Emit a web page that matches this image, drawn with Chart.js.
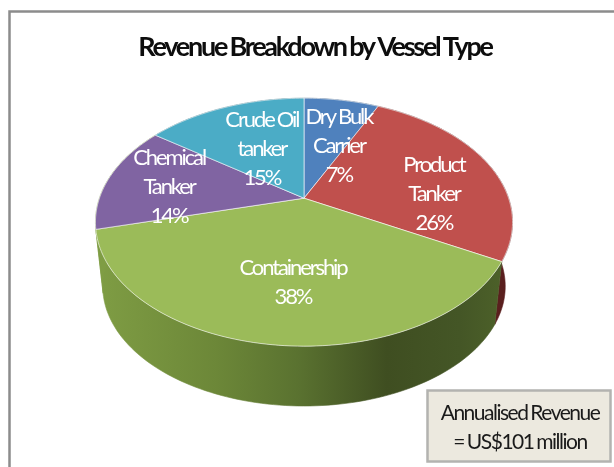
<!DOCTYPE html>
<html>
<head>
<meta charset="utf-8">
<style>
html,body{margin:0;padding:0;background:#fff;overflow:hidden}
#wrap{position:relative;width:614px;height:467px}
</style>
<script src="https://cdn.jsdelivr.net/npm/chart.js@4"></script>
</head>
<body>
<div id="wrap"><canvas id="c" width="614" height="467"></canvas></div>
<script>
// Revenue share by vessel type, in percent
const categories = ['Dry Bulk Carrier', 'Product Tanker', 'Containership', 'Chemical Tanker', 'Crude Oil tanker'];
const shares = [7, 26, 38, 14, 15];
const labelLines = [['Dry Bulk', 'Carrier'], ['Product', 'Tanker'], ['Containership'], ['Chemical', 'Tanker'], ['Crude Oil', 'tanker']];
const topColors = ['#4f81bd', '#c0504d', '#9bbb59', '#8064a2', '#4bacc6'];
const wallColors = ['#2f4d72', '#5a1f1e', '#5f7a32', '#7f9d44', '#2d6777'];
const titleText = 'Revenue Breakdown by Vessel Type';
const noteLines = ['Annualised Revenue', '= US$101 million'];

// Where each label sits inside its slice: fraction of the radius, degrees off the slice's middle
const labelRadius = [0.51, 0.64, 0.62, 0.678, 0.5];
const labelTurn = [8.8, 15, -2.8, -2.8, 0.4];

const TILT = 0.1935;       // perspective strength
const SQUASH = 0.5833;     // vertical foreshortening of the top face
const DEPTH = 65;          // height of the wall at the front
const FLOOR = 0.965;       // bottom face is a little further from the viewer
const FONT = 'Lato, "Open Sans", sans-serif';

// Projects a polar position on the disc (clockwise from the top) to the canvas
function project(arc, theta, frac, floor) {
  const u = Math.sin(theta) * frac, v = -Math.cos(theta) * frac;
  const w = 1 / (1 - TILT * v);
  const s = floor ? FLOOR : 1;
  return {
    x: arc.x + arc.outerRadius * s * u * w,
    y: arc.y + (floor ? DEPTH : 0) + arc.outerRadius * SQUASH * s * v * w
  };
}

function angles(arc) {
  return [arc.startAngle + Math.PI / 2, arc.endAngle + Math.PI / 2];
}

function wallFill(ctx, i) {
  if (i !== 2) return wallColors[i];
  const g = ctx.createLinearGradient(96, 0, 500, 0);
  g.addColorStop(0, '#7f9d44');
  g.addColorStop(0.3, '#6c8738');
  g.addColorStop(0.5, '#5a7230');
  g.addColorStop(0.72, '#3f4e21');
  g.addColorStop(0.9, '#445626');
  g.addColorStop(1, '#4c6029');
  return g;
}

const pie3d = {
  id: 'pie3d',
  beforeDraw(chart) {
    const ctx = chart.ctx;
    ctx.letterSpacing = '-2.25px';
    ctx.wordSpacing = '-1px';
    // outer frame, open on the sides the page crops
    ctx.save();
    ctx.strokeStyle = '#8c8c8c';
    ctx.lineWidth = 2.5;
    ctx.beginPath();
    ctx.moveTo(9.5, 470);
    ctx.lineTo(9.5, 11.5);
    ctx.lineTo(620, 11.5);
    ctx.stroke();
    ctx.restore();
  },
  afterLayout(chart) {
    // the heading sits a little right of the pie's axis
    chart.titleBlock.left += 22;
  },
  beforeDatasetDraw(chart) {
    const ctx = chart.ctx;
    const arcs = chart.getDatasetMeta(0).data;
    ctx.save();
    // side wall
    arcs.forEach((arc, i) => {
      const [a, b] = angles(arc);
      const n = Math.max(4, Math.ceil((b - a) * 40));
      ctx.beginPath();
      for (let k = 0; k <= n; k++) {
        const p = project(arc, a + (b - a) * k / n, 1, false);
        k ? ctx.lineTo(p.x, p.y) : ctx.moveTo(p.x, p.y);
      }
      for (let k = n; k >= 0; k--) {
        const p = project(arc, a + (b - a) * k / n, 1, true);
        ctx.lineTo(p.x, p.y);
      }
      ctx.closePath();
      ctx.fillStyle = wallFill(ctx, i);
      ctx.strokeStyle = ctx.fillStyle;
      ctx.lineWidth = 0.6;
      ctx.fill();
      ctx.stroke();
    });
    // top face
    arcs.forEach((arc, i) => {
      const [a, b] = angles(arc);
      const n = Math.max(4, Math.ceil((b - a) * 40));
      ctx.beginPath();
      ctx.moveTo(arc.x, arc.y);
      for (let k = 0; k <= n; k++) {
        const p = project(arc, a + (b - a) * k / n, 1, false);
        ctx.lineTo(p.x, p.y);
      }
      ctx.closePath();
      ctx.fillStyle = arc.options.backgroundColor;
      ctx.fill();
      ctx.strokeStyle = arc.options.borderColor;
      ctx.lineWidth = arc.options.borderWidth;
      ctx.stroke();
    });
    ctx.restore();
    return false;
  },
  afterDatasetsDraw(chart) {
    const ctx = chart.ctx;
    const arcs = chart.getDatasetMeta(0).data;
    const total = shares.reduce((s, x) => s + x, 0);
    ctx.save();
    ctx.font = '22px ' + FONT;
    ctx.letterSpacing = '-2.1px';
    ctx.wordSpacing = '-0.5px';
    ctx.fillStyle = '#ffffff';
    ctx.textAlign = 'center';
    ctx.textBaseline = 'middle';
    arcs.forEach((arc, i) => {
      const [a, b] = angles(arc);
      const mid = (a + b) / 2 + labelTurn[i] * Math.PI / 180;
      const p = project(arc, mid, labelRadius[i], false);
      const lines = labelLines[i].concat(Math.round(shares[i] / total * 100) + '%');
      lines.forEach((t, j) => {
        ctx.fillText(t, p.x, p.y + (j - (lines.length - 1) / 2) * 29);
      });
    });
    // note box with the annual total
    ctx.fillStyle = '#ece9df';
    ctx.strokeStyle = '#b3b3b0';
    ctx.lineWidth = 2.5;
    ctx.fillRect(427.5, 390.5, 183, 71);
    ctx.strokeRect(427.5, 390.5, 183, 71);
    ctx.fillStyle = '#1a1a1a';
    ctx.font = '21px ' + FONT;
    ctx.letterSpacing = '-1.5px';
    ctx.wordSpacing = '-1px';
    noteLines.forEach((t, j) => ctx.fillText(t, 520, 413 + j * 29));
    ctx.restore();
  }
};

new Chart(document.getElementById('c'), {
  type: 'pie',
  data: {
    labels: categories,
    datasets: [{
      data: shares,
      backgroundColor: topColors,
      borderColor: 'rgba(255,255,255,0.6)',
      borderWidth: 1,
      radius: 204.6
    }]
  },
  options: {
    responsive: false,
    animation: false,
    layout: { padding: { left: 0, right: 6, top: 0, bottom: 149 } },
    plugins: {
      legend: { display: false },
      tooltip: { enabled: false },
      title: {
        display: true,
        text: titleText,
        color: '#0d0d0d',
        font: { family: FONT, size: 27, weight: 'bold' },
        padding: { top: 31, bottom: 15 }
      }
    }
  },
  plugins: [pie3d]
});
</script>
</body>
</html>
